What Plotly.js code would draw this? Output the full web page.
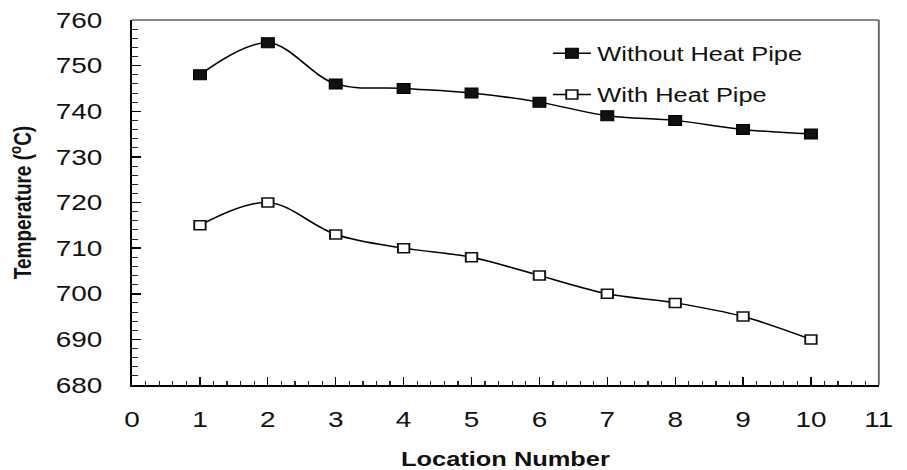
<!DOCTYPE html>
<html>
<head>
<meta charset="utf-8">
<script src="https://cdn.plot.ly/plotly-3.0.1.min.js"></script>
<style>
html,body{margin:0;padding:0;background:#fff;overflow:hidden;}
#wrap{width:714px;height:470px;transform:scaleX(1.27);transform-origin:0 0;}
#plot{width:714px;height:470px;}
</style>
</head>
<body>
<div id="wrap"><div id="plot"></div></div>
<script>
const locations = [1,2,3,4,5,6,7,8,9,10];
const withoutHeatPipe = [748,755,746,745,744,742,739,738,736,735];
const withHeatPipe = [715,720,713,710,708,704,700,698,695,690];
const xTicks = [0,1,2,3,4,5,6,7,8,9,10,11];
const yTicks = [680,690,700,710,720,730,740,750,760];

const font = 'Liberation Sans, Arial, sans-serif';

const traces = [
  {
    x: locations, y: withoutHeatPipe, name: 'Without Heat Pipe',
    type: 'scatter', mode: 'lines+markers', legend: 'legend',
    line: {color: '#000', width: 1.5, shape: 'spline', smoothing: 1},
    marker: {symbol: 'square', size: 10, color: '#111', line: {color: '#000', width: 1}}
  },
  {
    x: locations, y: withHeatPipe, name: 'With Heat Pipe',
    type: 'scatter', mode: 'lines+markers', legend: 'legend2',
    line: {color: '#000', width: 1.5, shape: 'spline', smoothing: 1},
    marker: {symbol: 'square', size: 9, color: '#fff', line: {color: '#111', width: 1.5}}
  }
];

const layout = {
  width: 714, height: 470,
  margin: {l: 104, r: 22, t: 20, b: 85},
  paper_bgcolor: '#fff', plot_bgcolor: '#fff',
  font: {family: font, color: '#111'},
  showlegend: true,
  legend: {x: 0.555, y: 0.909, xanchor: 'left', yanchor: 'middle', bgcolor: 'rgba(0,0,0,0)',
           font: {family: font, size: 20, color: '#111'}},
  legend2: {x: 0.555, y: 0.796, xanchor: 'left', yanchor: 'middle', bgcolor: 'rgba(0,0,0,0)',
           font: {family: font, size: 20, color: '#111'}},
  xaxis: {
    range: [0, 11], tickvals: xTicks, ticktext: xTicks.map(String),
    showgrid: false, zeroline: false,
    showline: true, linecolor: '#000', linewidth: 2,
    ticks: 'inside', ticklen: 8, tickwidth: 1, tickcolor: '#000',
    minor: {dtick: 0.2, ticks: 'inside', ticklen: 4, tickwidth: 1, tickcolor: '#222', showgrid: false},
    tickfont: {family: font, size: 22, color: '#111'},
    ticklabelstandoff: 14,
    title: {text: '<b>Location Number</b>', font: {family: font, size: 20, color: '#111'}, standoff: 22}
  },
  yaxis: {
    range: [680, 760], tickvals: yTicks, ticktext: yTicks.map(String),
    showgrid: false, zeroline: false,
    showline: true, linecolor: '#000', linewidth: 2,
    ticks: 'inside', ticklen: 7, tickwidth: 1.5, tickcolor: '#000',
    minor: {dtick: 2, ticks: 'inside', ticklen: 5, tickwidth: 1, tickcolor: '#222', showgrid: false},
    tickfont: {family: font, size: 22, color: '#111'},
    ticklabelstandoff: 17,
    title: {text: '<b>Temperature (<sup>o</sup>C)</b>', font: {family: font, size: 19, color: '#111'}, standoff: 14}
  },
  shapes: [
    {type: 'line', xref: 'paper', yref: 'paper', x0: 0, x1: 1, y0: 1, y1: 1, line: {color: '#888', width: 2}},
    {type: 'line', xref: 'paper', yref: 'paper', x0: 1, x1: 1, y0: 0, y1: 1, line: {color: '#666', width: 1.5}}
  ]
};

Plotly.newPlot('plot', traces, layout, {displayModeBar: false, staticPlot: true});
</script>
</body>
</html>
